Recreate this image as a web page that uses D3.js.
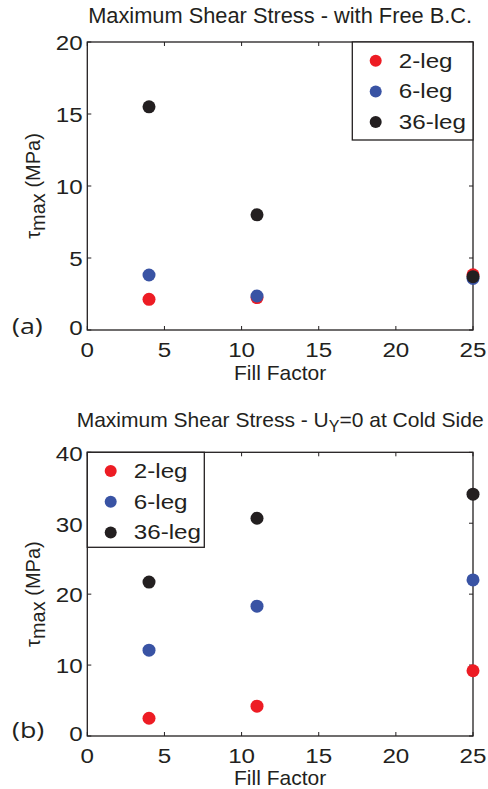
<!DOCTYPE html>
<html>
<head>
<meta charset="utf-8">
<script src="https://cdn.jsdelivr.net/npm/d3@7"></script>
<style>
  body { margin: 0; background: #fff; }
  svg { display: block; }
  text { font-family: "Liberation Sans", Arial, Helvetica, sans-serif; fill: #231f20; }
</style>
</head>
<body>
<div id="chart"></div>
<script>
'use strict';

// fill factor values (x) shared by both panels
var fillFactor = [4, 11, 25];
var legNames = ["2-leg", "6-leg", "36-leg"];
var legColors = ["#ed1c24", "#3953a4", "#231f20"];

// panel (a) - free boundary condition, tau max in MPa
var freeLeg2 = [2.13, 2.25, 3.83];
var freeLeg6 = [3.82, 2.36, 3.58];
var freeLeg36 = [15.5, 8.0, 3.70];

// panel (b) - U_Y = 0 at cold side
var coldLeg2 = [2.5, 4.2, 9.2];
var coldLeg6 = [12.1, 18.3, 22.0];
var coldLeg36 = [21.7, 30.7, 34.1];

var xTicks = [0, 5, 10, 15, 20, 25];
var yTicksA = [0, 5, 10, 15, 20];
var yTicksB = [0, 10, 20, 30, 40];

var W = 488, H = 789;
var SX = 1.18; // tick/legend glyphs are a bit wider than the font

var svg = d3.select("#chart").append("svg").attr("width", W).attr("height", H);

function wideText(g, x, y, txt, size, anchor) {
    return g.append("text")
        .attr("transform", "translate(" + x + "," + y + ") scale(" + SX + ",1)")
        .attr("text-anchor", anchor || "start")
        .style("font-size", size + "px")
        .text(txt);
}

function panel(opt) {
    var g = svg.append("g");
    var x = d3.scaleLinear().domain([0, 25]).range([87.3, 473]);
    var y = d3.scaleLinear().domain(opt.yDomain).range([opt.bottom, opt.top]);
    var x0 = x.range()[0], x1 = x.range()[1];
    var y0 = y.range()[0], y1 = y.range()[1];

    // ticks (inside, on all four sides like matlab box)
    var tl = 4;
    xTicks.forEach(function (t) {
        g.append("line").attr("x1", x(t)).attr("x2", x(t)).attr("y1", y0).attr("y2", y0 - tl)
            .attr("stroke", "#231f20").attr("stroke-width", 1);
        g.append("line").attr("x1", x(t)).attr("x2", x(t)).attr("y1", y1).attr("y2", y1 + tl)
            .attr("stroke", "#231f20").attr("stroke-width", 1);
        wideText(g, x(t), y0 + 26.5, t, 20.5, "middle");
    });
    opt.yTicks.forEach(function (t) {
        g.append("line").attr("x1", x0).attr("x2", x0 + tl).attr("y1", y(t)).attr("y2", y(t))
            .attr("stroke", "#231f20").attr("stroke-width", 1);
        g.append("line").attr("x1", x1).attr("x2", x1 - tl).attr("y1", y(t)).attr("y2", y(t))
            .attr("stroke", "#231f20").attr("stroke-width", 1);
        var dy = (t === opt.yDomain[0]) ? -2.5 : 1;
        wideText(g, 82.7, y(t) + dy + 7.3, t, 20.5, "end");
    });

    // box
    g.append("rect").attr("x", x0).attr("y", y1).attr("width", x1 - x0).attr("height", y0 - y1)
        .attr("fill", "none").attr("stroke", "#231f20").attr("stroke-width", 1.3);

    // points
    opt.series.forEach(function (vals, i) {
        g.selectAll(null).data(vals).enter().append("circle")
            .attr("cx", function (d, j) { return x(fillFactor[j]); })
            .attr("cy", function (d) { return y(d); })
            .attr("r", 6.5)
            .attr("fill", legColors[i]);
    });

    // legend
    var L = opt.legend;
    g.append("rect").attr("x", L.x).attr("y", L.y).attr("width", L.w).attr("height", L.h)
        .attr("fill", "#fff").attr("stroke", "#231f20").attr("stroke-width", 1.3);
    legNames.forEach(function (n, i) {
        var ry = L.y + 18.7 + i * 30.7;
        g.append("circle").attr("cx", L.x + 23.4).attr("cy", ry).attr("r", 6).attr("fill", legColors[i]);
        wideText(g, L.x + 46.5, ry + 7, n, 20.5, "start");
    });

    // titles and labels
    var title = g.append("text").attr("x", (x0 + x1) / 2).attr("y", opt.titleY)
        .attr("text-anchor", "middle").style("font-size", opt.titleSize + "px");
    opt.title.forEach(function (p) {
        var s = title.append("tspan").attr("dy", p.dy || 0).text(p.t);
        if (p.size) s.style("font-size", p.size + "px");
    });

    g.append("text").attr("x", (x0 + x1) / 2).attr("y", y0 + opt.xlabOff)
        .attr("text-anchor", "middle").style("font-size", "21px").text("Fill Factor");

    var yl = g.append("text")
        .attr("transform", "translate(40," + ((y0 + y1) / 2) + ") rotate(-90)")
        .attr("text-anchor", "middle").style("font-size", "20px");
    yl.append("tspan").text("\u03c4");
    yl.append("tspan").attr("dy", 5).text("max");
    yl.append("tspan").attr("dy", -5).text(" (MPa)");

    g.append("text")
        .attr("transform", "translate(12," + opt.tagY + ") scale(1.22,1)")
        .style("font-family", "'Open Sans', sans-serif").style("font-size", "22px")
        .text(opt.tag);
}

panel({
    yDomain: [0, 20], yTicks: yTicksA, top: 42, bottom: 330,
    series: [freeLeg2, freeLeg6, freeLeg36],
    legend: {x: 352.3, y: 42, w: 120.7, h: 98},
    title: [{t: "Maximum Shear Stress - with Free B.C."}],
    titleSize: 21.8, titleY: 22.7, xlabOff: 50, tag: "(a)", tagY: 334
});

panel({
    yDomain: [0, 40], yTicks: yTicksB, top: 452.3, bottom: 736,
    series: [coldLeg2, coldLeg6, coldLeg36],
    legend: {x: 87.3, y: 452.3, w: 117, h: 95},
    title: [{t: "Maximum Shear Stress - U"}, {t: "Y", dy: 5, size: 16}, {t: "=0 at Cold Side", dy: -5}],
    titleSize: 21, titleY: 426.7, xlabOff: 48.5, tag: "(b)", tagY: 738
});
</script>
</body>
</html>
